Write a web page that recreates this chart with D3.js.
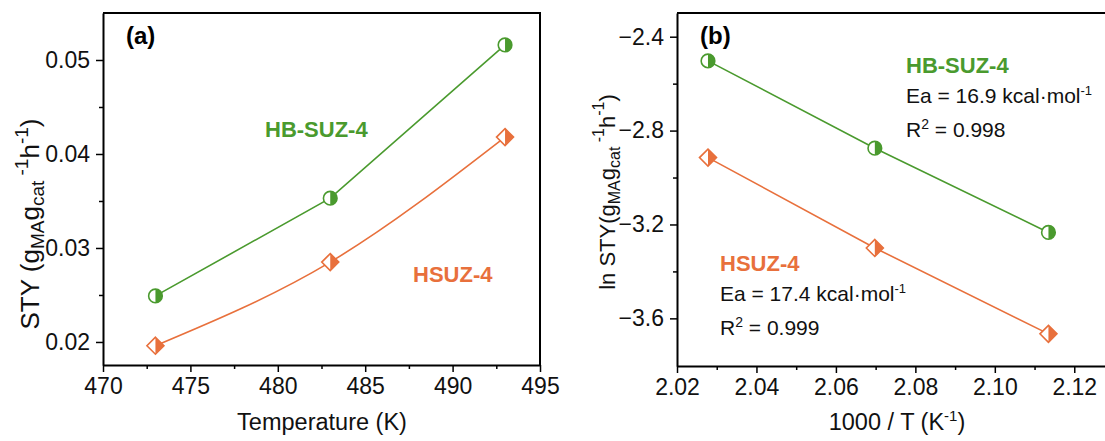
<!DOCTYPE html>
<html>
<head>
<meta charset="utf-8">
<script src="https://cdn.jsdelivr.net/npm/d3@7"></script>
<style>
  body { margin: 0; background: #fff; }
  svg { font-family: "Liberation Sans", Arial, sans-serif; }
</style>
</head>
<body>
<div id="charts"></div>
<script>
// ---- data ----
var temps = [473, 483, 493];
var styHB = [0.0249, 0.0353, 0.0516];
var styH = [0.0196, 0.0285, 0.0418];

var invT = [2.0278, 2.0698, 2.1135];
var lnHB = [-2.503, -2.875, -3.234];
var lnH = [-2.915, -3.300, -3.666];

var ticksA_x = [470, 475, 480, 485, 490, 495];
var ticksA_y = [0.02, 0.03, 0.04, 0.05];
var ticksB_x = [2.02, 2.04, 2.06, 2.08, 2.10, 2.12];
var ticksB_y = [-2.4, -2.8, -3.2, -3.6];

var green = "#4a9a2e", orange = "#e8703c";

var svg = d3.select("#charts").append("svg")
  .attr("width", 1105)
  .attr("height", 441);

function halfMarker(g, shape, x, y, color) {
  var m = g.append("g").attr("transform", "translate(" + x + "," + y + ")");
  if (shape == "circle") {
    var r = 6.8;
    m.append("circle").attr("r", r).attr("fill", "#fff").attr("stroke", color).attr("stroke-width", 1.6);
    m.append("path").attr("d", "M0," + (-r) + " A" + r + "," + r + " 0 0 1 0," + r + " Z").attr("fill", color);
  } else {
    var s = 8.5;
    m.append("path").attr("d", "M0," + (-s) + " L" + s + ",0 L0," + s + " L" + (-s) + ",0 Z")
      .attr("fill", "#fff").attr("stroke", color).attr("stroke-width", 1.6).attr("stroke-linejoin", "miter");
    m.append("path").attr("d", "M0," + (-s) + " L" + s + ",0 L0," + s + " Z").attr("fill", color);
  }
}

function drawPanel(opt) {
  var x = d3.scaleLinear().domain(opt.xdom).range([opt.left, opt.right]);
  var y = d3.scaleLinear().domain(opt.ydom).range([opt.bottom, opt.top]);
  var g = svg.append("g");

  // frame (top + right)
  g.append("path")
    .attr("d", "M" + opt.left + "," + opt.top + " H" + opt.right + " V" + opt.bottom)
    .attr("fill", "none").attr("stroke", "#000").attr("stroke-width", 2);

  // minor ticks
  g.append("g").attr("transform", "translate(0," + opt.bottom + ")")
    .call(d3.axisBottom(x).tickValues(opt.xminor).tickSize(4).tickFormat(""))
    .call(a => a.select(".domain").remove())
    .call(a => a.selectAll("line").attr("stroke-width", 1.5));
  g.append("g").attr("transform", "translate(" + opt.left + ",0)")
    .call(d3.axisLeft(y).tickValues(opt.yminor).tickSize(4).tickFormat(""))
    .call(a => a.select(".domain").remove())
    .call(a => a.selectAll("line").attr("stroke-width", 1.5));

  // major axes
  var xa = g.append("g").attr("transform", "translate(0," + opt.bottom + ")")
    .call(d3.axisBottom(x).tickValues(opt.xticks).tickSize(7).tickSizeOuter(0).tickPadding(6).tickFormat(d3.format(opt.xfmt)));
  var ya = g.append("g").attr("transform", "translate(" + opt.left + ",0)")
    .call(d3.axisLeft(y).tickValues(opt.yticks).tickSize(7).tickSizeOuter(0).tickPadding(6).tickFormat(d3.format(opt.yfmt)));
  [xa, ya].forEach(a => {
    a.select(".domain").attr("stroke-width", 2);
    a.selectAll(".tick line").attr("stroke-width", 1.5);
    a.selectAll("text").attr("font-size", 23).attr("fill", "#111")
      .attr("font-family", "'Liberation Sans', Arial, sans-serif");
  });

  // lines
  opt.series.forEach(s => {
    var line = d3.line().x(d => x(d[0])).y(d => y(d[1])).curve(s.curve);
    var pts = opt.xs.map((v, i) => [v, s.vals[i]]);
    g.append("path").datum(pts).attr("d", line)
      .attr("fill", "none").attr("stroke", s.color).attr("stroke-width", 1.6);
    pts.forEach(p => halfMarker(g, s.shape, x(p[0]), y(p[1]), s.color));
  });

  // panel label
  g.append("text").attr("x", opt.left + 23).attr("y", opt.top + 31)
    .attr("font-size", 24).attr("font-weight", "bold").text(opt.tag);

  // x title
  g.append("text").attr("x", opt.xtitleX).attr("y", 430).attr("text-anchor", "middle")
    .attr("font-size", 23.5).attr("fill", "#111").call(opt.xtitle);

  // y title
  g.append("text").attr("transform", "translate(" + opt.ytitleX + "," + opt.ytitleY + ") rotate(-90)")
    .attr("text-anchor", "middle").attr("fill", "#111").call(opt.ytitle);

  return g;
}

function styTitle(t, prefix, size, sub) {
  t.attr("font-size", size);
  t.append("tspan").text(prefix + "g");
  t.append("tspan").attr("font-size", sub).attr("dy", 5).text("MA");
  t.append("tspan").attr("dy", -5).text("g");
  t.append("tspan").attr("font-size", sub).attr("dy", 5).text("cat");
  t.append("tspan").attr("font-size", sub).attr("dy", -16).text(" -1");
  t.append("tspan").attr("dy", 11).text("h");
  t.append("tspan").attr("font-size", sub).attr("dy", -11).text("-1");
  t.append("tspan").attr("dy", 11).text(")");
}

var ga = drawPanel({
  left: 103, right: 540, top: 13, bottom: 365,
  xdom: [470, 495], ydom: [0.01755, 0.055],
  xticks: ticksA_x, yticks: ticksA_y,
  xminor: [472.5, 477.5, 482.5, 487.5, 492.5], yminor: [0.025, 0.035, 0.045],
  xfmt: "d", yfmt: ".2f",
  xs: temps,
  series: [{vals: styHB, color: green, shape: "circle", curve: d3.curveLinear},
           {vals: styH, color: orange, shape: "diamond", curve: d3.curveMonotoneX}],
  tag: "(a)",
  xtitleX: 322, xtitle: t => t.text("Temperature (K)"),
  ytitleX: 39, ytitleY: 224, ytitle: t => styTitle(t, "STY (", 26, 19)
});
ga.append("text").attr("x", 265).attr("y", 137).attr("font-size", 22).attr("font-weight", "bold")
  .attr("fill", green).text("HB-SUZ-4");
ga.append("text").attr("x", 413).attr("y", 282).attr("font-size", 22).attr("font-weight", "bold")
  .attr("fill", orange).text("HSUZ-4");

var gb = drawPanel({
  left: 677, right: 1114, top: 13, bottom: 366,
  xdom: [2.02, 2.13], ydom: [-3.803, -2.299],
  xticks: ticksB_x, yticks: ticksB_y,
  xminor: [2.03, 2.05, 2.07, 2.09, 2.11], yminor: [-2.6, -3.0, -3.4],
  xfmt: ".2f", yfmt: ".1f",
  xs: invT,
  series: [{vals: lnHB, color: green, shape: "circle", curve: d3.curveLinear},
           {vals: lnH, color: orange, shape: "diamond", curve: d3.curveLinear}],
  tag: "(b)",
  xtitleX: 897, xtitle: t => { t.append("tspan").text("1000 / T (K"); t.append("tspan").attr("font-size", 15).attr("dy", -9).text("-1"); t.append("tspan").attr("dy", 9).text(")"); },
  ytitleX: 615, ytitleY: 192, ytitle: t => styTitle(t, "ln STY(", 22, 16)
});

function fitLabel(g, x, y, name, color, ea, r2) {
  g.append("text").attr("x", x).attr("y", y).attr("font-size", 22).attr("font-weight", "bold")
    .attr("fill", color).text(name);
  var t1 = g.append("text").attr("x", x).attr("y", y + 30).attr("font-size", 21).attr("fill", "#111");
  t1.append("tspan").text("Ea = " + ea + " kcal·mol");
  t1.append("tspan").attr("font-size", 13).attr("dy", -8).text("-1");
  var t2 = g.append("text").attr("x", x).attr("y", y + 64).attr("font-size", 21).attr("fill", "#111");
  t2.append("tspan").text("R");
  t2.append("tspan").attr("font-size", 14).attr("dy", -8).text("2");
  t2.append("tspan").attr("dy", 8).text(" = " + r2);
}
fitLabel(gb, 906, 73, "HB-SUZ-4", green, "16.9", "0.998");
fitLabel(gb, 720, 271, "HSUZ-4", orange, "17.4", "0.999");
</script>
</body>
</html>
